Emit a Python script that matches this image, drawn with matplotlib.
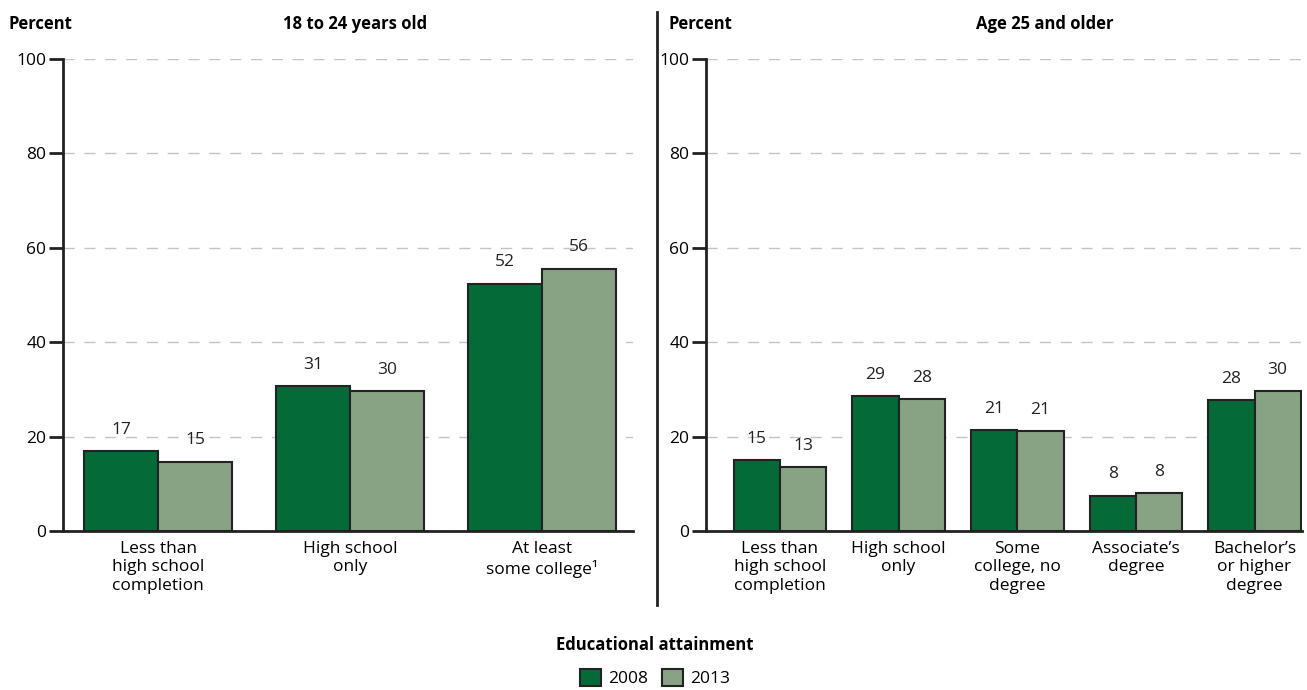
import numpy as np
import matplotlib.pyplot as plt
from matplotlib.patches import Patch

plt.rcParams['font.family'] = ['Open Sans', 'DejaVu Sans']

# data
years = ['2008', '2013']
young_labels = ['Less than\nhigh school\ncompletion', 'High school\nonly', 'At least\nsome college\u00b9']
young_2008 = [17.0, 30.7, 52.4]
young_2013 = [14.7, 29.7, 55.6]
young_text_2008 = ['17', '31', '52']
young_text_2013 = ['15', '30', '56']

older_labels = ['Less than\nhigh school\ncompletion', 'High school\nonly', 'Some\ncollege, no\ndegree',
                'Associate\u2019s\ndegree', 'Bachelor\u2019s\nor higher\ndegree']
older_2008 = [15.0, 28.5, 21.3, 7.5, 27.7]
older_2013 = [13.5, 27.9, 21.1, 8.1, 29.6]
older_text_2008 = ['15', '29', '21', '8', '28']
older_text_2013 = ['13', '28', '21', '8', '30']

yticks = [0, 20, 40, 60, 80, 100]

dark = '#046a38'
light = '#87a384'
edge = '#222222'

W, H = 1307, 690
fig = plt.figure(figsize=(W / 100, H / 100), dpi=100)


def draw_panel(ax, labels, v08, v13, t08, t13, width):
    x = np.arange(len(labels))
    ax.bar(x - width / 2, v08, width, color=dark, edgecolor=edge, linewidth=1.5, zorder=3)
    ax.bar(x + width / 2, v13, width, color=light, edgecolor=edge, linewidth=1.5, zorder=3)
    for xi, v, t in zip(x - width / 2, v08, t08):
        ax.text(xi, v + 2.8, t, ha='center', va='bottom', fontsize=12.5, color='#222222')
    for xi, v, t in zip(x + width / 2, v13, t13):
        ax.text(xi, v + 2.8, t, ha='center', va='bottom', fontsize=12.5, color='#222222')
    ax.set_ylim(0, 100)
    ax.set_yticks(yticks)
    ax.set_xticks(x)
    ax.set_xticklabels(labels, fontsize=12.5, linespacing=1.2)
    ax.tick_params(axis='x', length=0, pad=7)
    ax.tick_params(axis='y', length=10, width=2, labelsize=12.5, pad=2, color=edge)
    ax.yaxis.grid(True, color='#c4c4c4', linestyle=(0, (8, 7)), linewidth=1)
    ax.set_axisbelow(True)
    for s in ['top', 'right']:
        ax.spines[s].set_visible(False)
    for s in ['left', 'bottom']:
        ax.spines[s].set_linewidth(2)
        ax.spines[s].set_color(edge)


ax1 = fig.add_axes([63 / W, 1 - 531 / H, 570 / W, 472 / H])
draw_panel(ax1, young_labels, young_2008, young_2013, young_text_2008, young_text_2013, 0.385)
ax1.set_xlim(-0.495, 2.474)

ax2 = fig.add_axes([706 / W, 1 - 531 / H, 596 / W, 472 / H])
draw_panel(ax2, older_labels, older_2008, older_2013, older_text_2008, older_text_2013, 0.39)
ax2.set_xlim(-0.623, 4.40)

# panel headings
fig.text(8 / W, 1 - 24 / H, 'Percent', fontsize=12, fontweight='bold', ha='left', va='center')
fig.text(355 / W, 1 - 24 / H, '18 to 24 years old', fontsize=12, fontweight='bold', ha='center', va='center')
fig.text(668 / W, 1 - 24 / H, 'Percent', fontsize=12, fontweight='bold', ha='left', va='center')
fig.text(1045 / W, 1 - 24 / H, 'Age 25 and older', fontsize=12, fontweight='bold', ha='center', va='center')

# divider between panels
fig.add_artist(plt.Line2D([657 / W, 657 / W], [1 - 12 / H, 1 - 605 / H], color=edge, linewidth=2))

# legend
fig.text(655 / W, 1 - 645 / H, 'Educational attainment', fontsize=12, fontweight='bold', ha='center', va='center')
handles = [Patch(facecolor=dark, edgecolor=edge, linewidth=1.5, label=years[0]),
           Patch(facecolor=light, edgecolor=edge, linewidth=1.5, label=years[1])]
fig.legend(handles=handles, loc='center', bbox_to_anchor=(655 / W, 1 - 678 / H), ncol=2, frameon=False,
           fontsize=12.5, handlelength=1.2, handleheight=1.2, handletextpad=0.4, columnspacing=0.8)

fig.savefig('out.png', dpi=100)
